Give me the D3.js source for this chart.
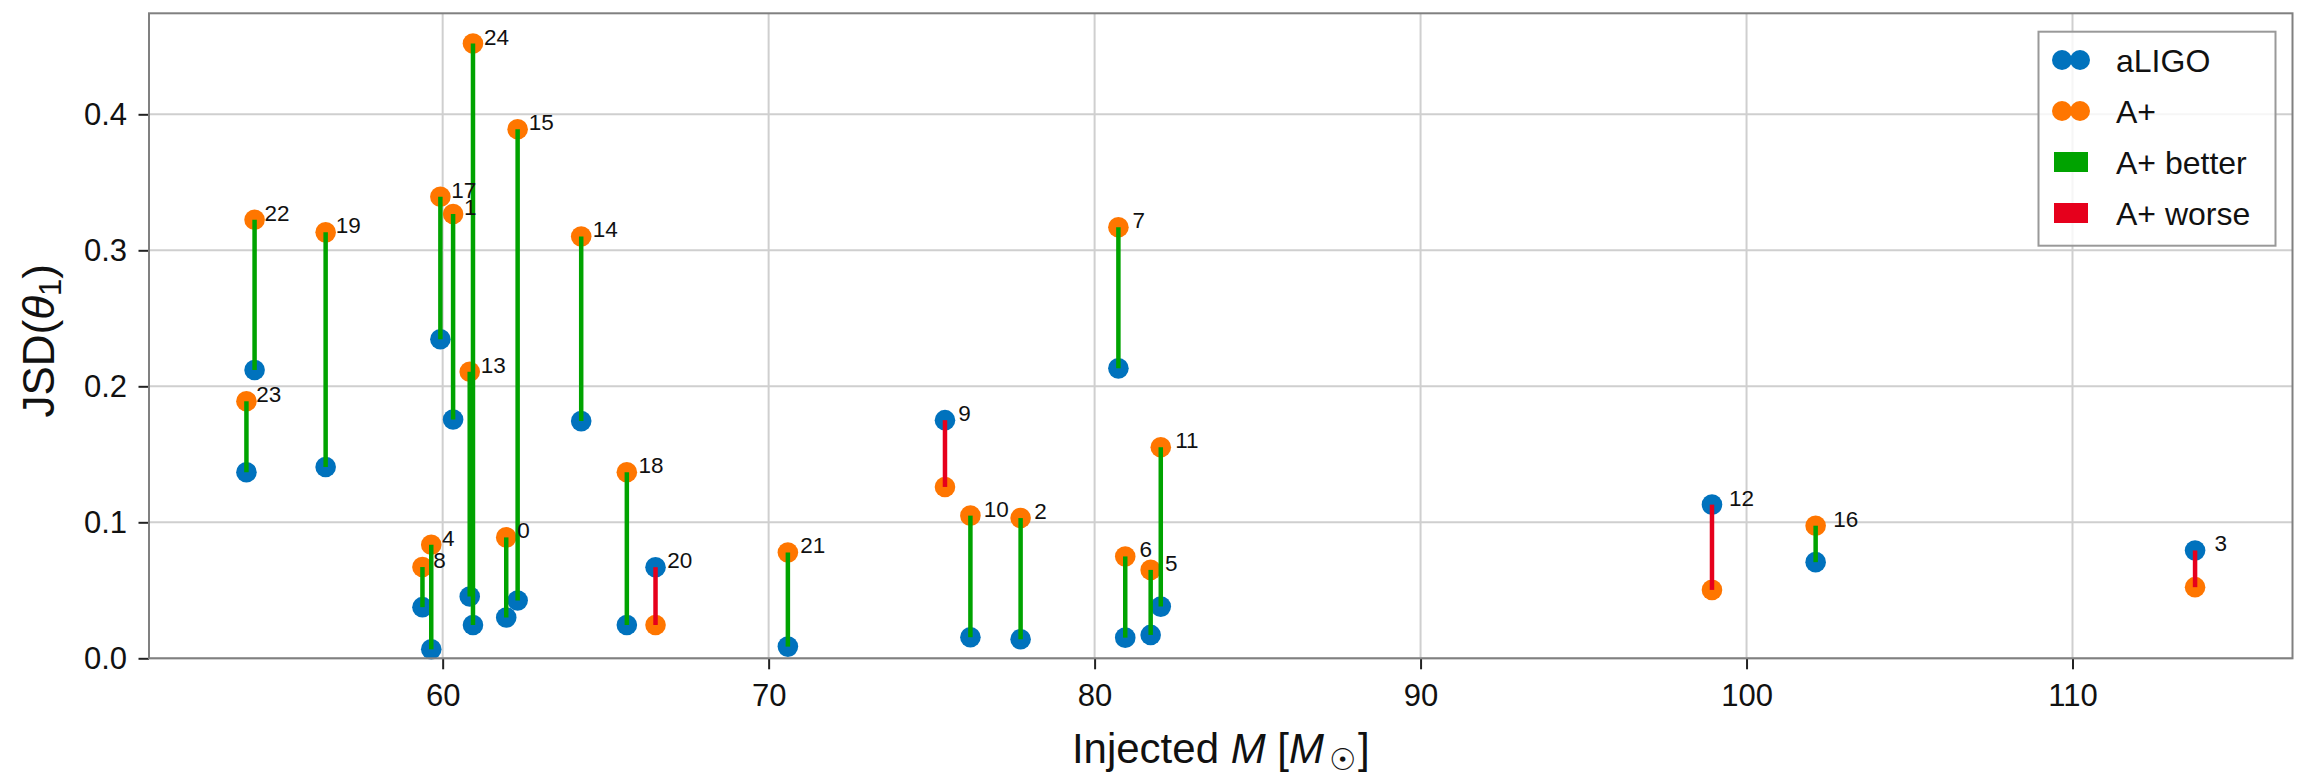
<!DOCTYPE html>
<html>
<head>
<meta charset="utf-8">
<script src="https://cdn.jsdelivr.net/npm/d3@7"></script>
<style>
  body { margin: 0; background: #fff; }
  svg text { font-family: "Liberation Sans", Arial, "DejaVu Sans", sans-serif; fill: #111; }
</style>
</head>
<body>
<svg id="chart" width="2300" height="776"></svg>
<script>
// injection index, injected total mass and JSD for each detector network
var injIds = [0, 1, 2, 3, 4, 5, 6, 7, 8, 9, 10, 11, 12, 13, 14, 15, 16, 17, 18, 19, 20, 21, 22, 23, 24];
var injMass = [61.95, 60.32, 77.73, 113.76, 59.65, 81.72, 80.94, 80.73, 59.38, 75.41, 76.19, 82.03, 98.94,
               60.83, 64.25, 62.30, 102.12, 59.93, 65.65, 56.41, 66.53, 70.59, 54.23, 53.98, 60.93];
var jsdALIGO = [0.030, 0.1756, 0.014, 0.0793, 0.0066, 0.0172, 0.0152, 0.2132, 0.0376, 0.1751, 0.0155, 0.038, 0.113,
                0.0454, 0.1744, 0.0425, 0.0707, 0.2346, 0.0245, 0.1407, 0.0670, 0.0086, 0.2120, 0.1368, 0.0245];
var jsdAPlus = [0.0889, 0.3267, 0.1031, 0.0523, 0.0835, 0.065, 0.0749, 0.3169, 0.0671, 0.126, 0.1049, 0.1552, 0.0503,
                0.2107, 0.3102, 0.389, 0.0975, 0.3394, 0.1368, 0.3132, 0.0245, 0.0778, 0.3225, 0.189, 0.452];
var xTicks = [60, 70, 80, 90, 100, 110];
var yTicks = [0.0, 0.1, 0.2, 0.3, 0.4];
var legendNames = ["aLIGO", "A+", "A+ better", "A+ worse"];

var colBlue = "#0072bd", colOrange = "#ff7600", colGreen = "#00a300", colRed = "#e6001c";

var width = 2300, height = 776;
var margin = {left: 149, top: 13.3, right: 7.5, bottom: 117.7};
var svg = d3.select("#chart");

var rows = injIds.map(function(id, i) {
  return {id: id, m: injMass[i], a: jsdALIGO[i], p: jsdAPlus[i]};
});

// matplotlib style 5% auto margins
var mExt = d3.extent(injMass);
var mPad = (mExt[1] - mExt[0]) * 0.05;
var allJsd = jsdALIGO.concat(jsdAPlus);
var jExt = d3.extent(allJsd);
var jTop = jExt[1] + (jExt[1] - jExt[0]) * 0.05;

var xScale = d3.scaleLinear()
  .domain([mExt[0] - mPad, mExt[1] + mPad])
  .range([margin.left, width - margin.right]);
var yScale = d3.scaleLinear()
  .domain([0, jTop])
  .range([height - margin.bottom, margin.top]);

var x0 = margin.left, x1 = width - margin.right;
var y0 = height - margin.bottom, y1 = margin.top;

// grid
svg.append("g").selectAll("line.vg").data(xTicks).enter().append("line")
  .attr("x1", function(d) { return xScale(d); }).attr("x2", function(d) { return xScale(d); })
  .attr("y1", y0).attr("y2", y1)
  .attr("stroke", "#cfcfcf").attr("stroke-width", 2);
svg.append("g").selectAll("line.hg").data(yTicks).enter().append("line")
  .attr("x1", x0).attr("x2", x1)
  .attr("y1", function(d) { return yScale(d); }).attr("y2", function(d) { return yScale(d); })
  .attr("stroke", "#cfcfcf").attr("stroke-width", 2);

// axes
var xAxis = d3.axisBottom(xScale).tickValues(xTicks).tickSize(11).tickPadding(15).tickFormat(d3.format("d"));
var yAxis = d3.axisLeft(yScale).tickValues(yTicks).tickSize(10.5).tickPadding(11.5).tickFormat(d3.format(".1f"));

var gx = svg.append("g").attr("transform", "translate(0," + y0 + ")").call(xAxis);
var gy = svg.append("g").attr("transform", "translate(" + x0 + ",0)").call(yAxis);
[gx, gy].forEach(function(g) {
  g.select(".domain").remove();
  g.selectAll(".tick line").attr("stroke", "#222").attr("stroke-width", 2);
  g.selectAll(".tick text").attr("font-size", 31).style("fill", "#111");
});

// markers
var pts = svg.append("g");
pts.selectAll("circle.al").data(rows).enter().append("circle")
  .attr("cx", function(d) { return xScale(d.m); })
  .attr("cy", function(d) { return yScale(d.a); })
  .attr("r", 10.3).attr("fill", colBlue);
pts.selectAll("circle.ap").data(rows).enter().append("circle")
  .attr("cx", function(d) { return xScale(d.m); })
  .attr("cy", function(d) { return yScale(d.p); })
  .attr("r", 10.3).attr("fill", colOrange);

// stems: green when A+ JSD is higher
pts.selectAll("line.stem").data(rows).enter().append("line")
  .attr("x1", function(d) { return xScale(d.m); })
  .attr("x2", function(d) { return xScale(d.m); })
  .attr("y1", function(d) { return yScale(d.a); })
  .attr("y2", function(d) { return yScale(d.p); })
  .attr("stroke", function(d) { return d.p > d.a ? colGreen : colRed; })
  .attr("stroke-width", 4.5);

// index labels next to the upper point
pts.selectAll("text.lbl").data(rows).enter().append("text")
  .attr("x", function(d) { return xScale(d.m * 1.005) + 1; })
  .attr("y", function(d) { return yScale(Math.max(d.a, d.p)) + 1; })
  .attr("font-size", 22.5)
  .text(function(d) { return d.id; });

// frame
svg.append("rect")
  .attr("x", x0).attr("y", y1).attr("width", x1 - x0).attr("height", y0 - y1)
  .attr("fill", "none").attr("stroke", "#808080").attr("stroke-width", 2);

// axis labels
var xl = svg.append("text")
  .attr("x", (x0 + x1) / 2).attr("y", 763)
  .attr("text-anchor", "middle").attr("font-size", 42);
xl.append("tspan").text("Injected ");
xl.append("tspan").attr("font-style", "italic").text("M");
xl.append("tspan").text(" [");
xl.append("tspan").attr("font-style", "italic").text("M");
xl.append("tspan").attr("font-size", 30).attr("dx", 5).attr("dy", 7).attr("font-family", "DejaVu Sans").text("\u2609");
xl.append("tspan").attr("dx", 2).attr("dy", -7).text("]");

var yl = svg.append("text")
  .attr("transform", "translate(54," + ((y0 + y1) / 2 + 5) + ") rotate(-90)")
  .attr("text-anchor", "middle").attr("font-size", 44);
yl.append("tspan").text("JSD(");
yl.append("tspan").attr("font-style", "italic").text("\u03b8");
yl.append("tspan").attr("font-size", 31).attr("dy", 7).text("1");
yl.append("tspan").attr("dy", -7).text(")");

// legend
var lg = svg.append("g");
lg.append("rect")
  .attr("x", 2038.5).attr("y", 31.7).attr("width", 237).attr("height", 214)
  .attr("fill", "#fff").attr("fill-opacity", 0.8)
  .attr("stroke", "#999").attr("stroke-width", 2);
var legendCols = [colBlue, colOrange, colGreen, colRed];
var ly = d3.scalePoint().domain(legendNames).range([60, 213]);
legendNames.forEach(function(name, i) {
  var cy = ly(name);
  if (i < 2) {
    [2062, 2080].forEach(function(cx) {
      lg.append("circle").attr("cx", cx).attr("cy", cy).attr("r", 10).attr("fill", legendCols[i]);
    });
  } else {
    lg.append("rect").attr("x", 2054).attr("y", cy - 10).attr("width", 34).attr("height", 20)
      .attr("fill", legendCols[i]);
  }
  lg.append("text").attr("x", 2116).attr("y", cy + 11.5).attr("font-size", 32).text(name);
});
</script>
</body>
</html>
